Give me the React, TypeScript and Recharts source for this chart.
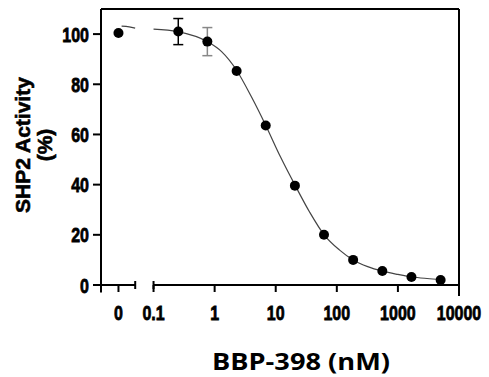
import React from "react";
import {
  ComposedChart,
  Scatter,
  Line,
  XAxis,
  YAxis,
  ErrorBar,
  ReferenceLine,
} from "recharts";

// measured concentrations (nM) and SHP2 activity (%)
const concentrations = [0, 0.254, 0.76, 2.29, 6.86, 20.6, 61.7, 185, 556, 1667, 5000];
const activity = [100.4, 101, 97, 85.3, 63.6, 39.6, 20, 10, 5.6, 3.2, 2];
const errBlack = [null, 5.2, null, null, null, null, null, null, null, null, null];
const errGrey = [null, null, 5.6, null, null, null, null, null, null, null, null];

// fitted curve (null = axis break)
const fitConc = [0.03, 0.04, 0.05, 0.07, 0.1, 0.25, 0.76, 1.3, 2.3, 4, 6.9, 12, 21, 36, 62, 110, 185, 320, 560, 1000, 1700, 3000, 5000];
const fitValues = [103.2, 102.9, 102.4, null, 102, 101, 97, 93, 85.5, 75, 63.5, 51, 39.5, 29, 20, 14, 10, 7.3, 5.5, 4.2, 3.2, 2.6, 2.2];

const tickLabels = ["0", "0.1", "1", "10", "100", "1000", "10000"];
const yTicks = [0, 20, 40, 60, 80, 100];

const ZERO_POS = -1.574;
const X_MIN = -1.86;
const X_MAX = 4;
const BREAK_END = -1.3;

const toPos = (c: number) => (c === 0 ? ZERO_POS : Math.log10(c));

const pointTable = concentrations.map((c, i) => ({
  pos: toPos(c),
  activity: activity[i],
  errBlack: errBlack[i],
  errGrey: errGrey[i],
}));

const fitTable = fitConc.map((c, i) => ({ pos: toPos(c), fit: fitValues[i] }));

const xTicks = [ZERO_POS, -1, 0, 1, 2, 3, 4];
const tickText = (v: number) => tickLabels[xTicks.indexOf(v)] ?? "";

const FONT = "'Liberation Sans', Arial, Helvetica, sans-serif";
const heavy = { stroke: "#000", strokeWidth: 0.6, fill: "#000", fontFamily: FONT, fontWeight: "bold" as const };

const XTick = (props: any) => (
  <g transform={`translate(${props.x},320) scale(1,1.3)`}>
    <text x={0} y={0} textAnchor="middle" fontSize={16} {...heavy}>
      {tickText(props.payload.value)}
    </text>
  </g>
);

const YTick = (props: any) => (
  <g transform={`translate(${props.x - 2},${props.y + 7.5}) scale(1,1.3)`}>
    <text x={0} y={0} textAnchor="end" fontSize={16} {...heavy}>
      {props.payload.value}
    </text>
  </g>
);

const YLabel = () => (
  <g>
    <text
      x={22}
      y={145}
      transform="rotate(-90, 22, 145)"
      textAnchor="middle"
      dominantBaseline="central"
      fontSize={21}
      {...heavy}
    >
      SHP2 Activity
    </text>
    <text
      x={44}
      y={145}
      transform="rotate(-90, 44, 145)"
      textAnchor="middle"
      dominantBaseline="central"
      fontSize={21}
      {...heavy}
    >
      (%)
    </text>
  </g>
);

const XLabel = () => (
  <text
    x={301}
    y={370}
    textAnchor="middle"
    fontFamily="'Open Sans', 'Noto Sans', sans-serif"
    fontWeight="bold"
    fontSize={23}
    textLength={178}
    lengthAdjust="spacingAndGlyphs"
    fill="#000"
  >
    BBP-398 (nM)
  </text>
);

const Dot = (p: any) => <circle cx={p.cx} cy={p.cy} r={5} fill="#000" />;

const frame = { stroke: "#000", strokeWidth: 2, ifOverflow: "visible" as const };

export default function App() {
  return (
    <div style={{ position: "absolute", left: 0, top: 0, background: "#fff" }}>
      <ComposedChart width={489} height={377} margin={{ top: 9, right: 30, bottom: 52, left: 0 }}>
        <XAxis
          dataKey="pos"
          type="number"
          domain={[X_MIN, X_MAX]}
          ticks={xTicks}
          axisLine={false}
          tickLine={{ stroke: "#000", strokeWidth: 2 }}
          tickSize={7}
          tick={<XTick />}
          height={40}
          allowDataOverflow
          label={{ content: () => <XLabel /> }}
        />
        <YAxis
          type="number"
          domain={[0, 110]}
          ticks={yTicks}
          width={101}
          axisLine={{ stroke: "#000", strokeWidth: 2 }}
          tickLine={{ stroke: "#000", strokeWidth: 2 }}
          tickSize={8}
          tickMargin={2}
          tick={<YTick />}
          allowDataOverflow
          label={{ content: () => <YLabel /> }}
        />

        {/* frame and broken x axis */}
        <ReferenceLine {...frame} segment={[{ x: X_MIN, y: 110 }, { x: X_MAX, y: 110 }]} />
        <ReferenceLine {...frame} segment={[{ x: X_MAX, y: 110 }, { x: X_MAX, y: -4.4 }]} />
        <ReferenceLine {...frame} segment={[{ x: X_MIN, y: 0 }, { x: X_MIN, y: -3 }]} />
        <ReferenceLine {...frame} segment={[{ x: X_MIN, y: 0 }, { x: BREAK_END, y: 0 }]} />
        <ReferenceLine {...frame} segment={[{ x: BREAK_END, y: -1.6 }, { x: BREAK_END, y: 1.6 }]} />
        <ReferenceLine {...frame} segment={[{ x: -1, y: 0 }, { x: X_MAX, y: 0 }]} />
        <ReferenceLine {...frame} segment={[{ x: -1, y: -1.6 }, { x: -1, y: 1.6 }]} />

        <Line
          data={fitTable}
          dataKey="fit"
          type="monotone"
          stroke="#444"
          strokeWidth={1.2}
          dot={false}
          activeDot={false}
          connectNulls={false}
          isAnimationActive={false}
        />
        <Scatter data={pointTable} dataKey="activity" shape={<Dot />} isAnimationActive={false}>
          <ErrorBar dataKey="errBlack" direction="y" width={5} stroke="#000" strokeWidth={1.5} />
          <ErrorBar dataKey="errGrey" direction="y" width={5} stroke="#888" strokeWidth={1.5} />
        </Scatter>
      </ComposedChart>
    </div>
  );
}
